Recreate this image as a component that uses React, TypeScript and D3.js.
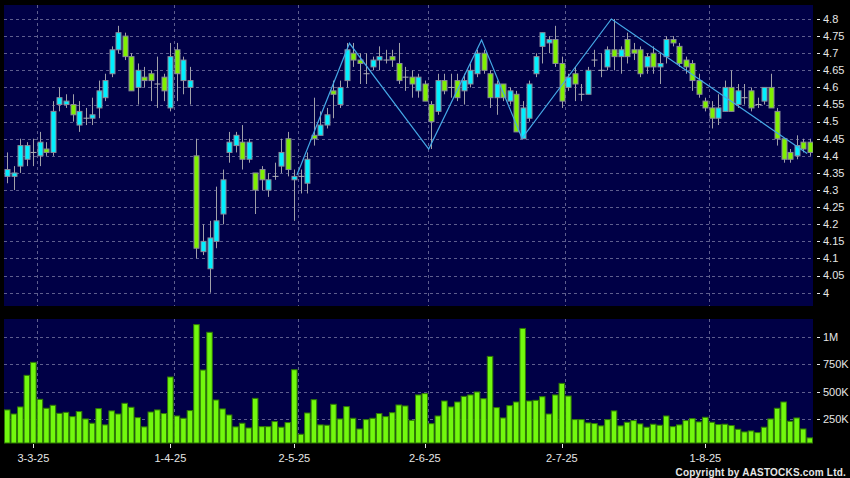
import React from 'react';
import * as d3 from 'd3';

// ---- Data ----
const opens = [
  4.34, 4.34, 4.37, 4.39, 4.41, 4.40, 4.42, 4.41, 4.55, 4.55,
  4.55, 4.49, 4.51, 4.51, 4.54, 4.57, 4.64, 4.71, 4.75, 4.69,
  4.60, 4.63, 4.64, 4.61, 4.63, 4.54, 4.71, 4.62, 4.60, 4.40,
  4.12, 4.07, 4.15, 4.23, 4.41, 4.43, 4.44, 4.39, 4.35, 4.36,
  4.30, 4.34, 4.37, 4.45, 4.33, 4.34, 4.32, 4.46, 4.46, 4.49,
  4.59, 4.55, 4.62, 4.70, 4.68, 4.64, 4.66, 4.68, 4.68, 4.69,
  4.67, 4.63, 4.63, 4.59, 4.61, 4.55, 4.53, 4.62, 4.60, 4.62,
  4.59, 4.61, 4.64, 4.70, 4.64, 4.57, 4.61, 4.56, 4.58, 4.45,
  4.51, 4.64, 4.72, 4.73, 4.74, 4.67, 4.60, 4.64, 4.58, 4.58,
  4.68, 4.65, 4.66, 4.71, 4.69, 4.74, 4.71, 4.71, 4.66, 4.70,
  4.66, 4.69, 4.74, 4.72, 4.68, 4.67, 4.62, 4.56, 4.54, 4.51,
  4.53, 4.60, 4.55, 4.57, 4.59, 4.55, 4.56, 4.60, 4.53, 4.45,
  4.41, 4.40, 4.44, 4.44,
];
const highs = [
  4.41, 4.37, 4.45, 4.44, 4.45, 4.47, 4.44, 4.56, 4.60, 4.58,
  4.58, 4.56, 4.54, 4.57, 4.62, 4.64, 4.72, 4.78, 4.76, 4.70,
  4.67, 4.66, 4.65, 4.69, 4.64, 4.73, 4.73, 4.69, 4.66, 4.45,
  4.20, 4.21, 4.31, 4.36, 4.47, 4.47, 4.49, 4.45, 4.35, 4.37,
  4.35, 4.38, 4.45, 4.47, 4.36, 4.36, 4.41, 4.57, 4.53, 4.54,
  4.62, 4.62, 4.73, 4.73, 4.70, 4.70, 4.69, 4.72, 4.71, 4.71,
  4.73, 4.66, 4.65, 4.64, 4.62, 4.56, 4.64, 4.64, 4.64, 4.64,
  4.64, 4.67, 4.71, 4.71, 4.65, 4.62, 4.61, 4.60, 4.59, 4.56,
  4.62, 4.70, 4.76, 4.75, 4.78, 4.69, 4.64, 4.66, 4.61, 4.66,
  4.71, 4.70, 4.72, 4.80, 4.72, 4.76, 4.73, 4.72, 4.70, 4.72,
  4.70, 4.75, 4.75, 4.73, 4.69, 4.68, 4.64, 4.57, 4.56, 4.58,
  4.62, 4.65, 4.61, 4.61, 4.60, 4.57, 4.60, 4.64, 4.54, 4.45,
  4.42, 4.46, 4.45, 4.45,
];
const lows = [
  4.32, 4.30, 4.35, 4.37, 4.37, 4.37, 4.40, 4.40, 4.53, 4.54,
  4.50, 4.47, 4.49, 4.49, 4.51, 4.56, 4.63, 4.70, 4.68, 4.59,
  4.55, 4.60, 4.56, 4.54, 4.56, 4.53, 4.56, 4.58, 4.55, 4.10,
  4.11, 4.00, 4.13, 4.20, 4.38, 4.41, 4.36, 4.38, 4.23, 4.30,
  4.28, 4.33, 4.35, 4.34, 4.21, 4.29, 4.29, 4.43, 4.46, 4.48,
  4.51, 4.54, 4.60, 4.66, 4.61, 4.61, 4.65, 4.65, 4.67, 4.66,
  4.61, 4.59, 4.57, 4.57, 4.56, 4.42, 4.52, 4.58, 4.57, 4.56,
  4.55, 4.60, 4.63, 4.64, 4.54, 4.52, 4.56, 4.55, 4.47, 4.45,
  4.50, 4.63, 4.67, 4.70, 4.66, 4.54, 4.59, 4.56, 4.56, 4.58,
  4.66, 4.63, 4.65, 4.65, 4.64, 4.67, 4.68, 4.63, 4.64, 4.64,
  4.61, 4.67, 4.72, 4.66, 4.64, 4.59, 4.57, 4.53, 4.48, 4.49,
  4.53, 4.53, 4.54, 4.55, 4.53, 4.54, 4.55, 4.54, 4.43, 4.38,
  4.38, 4.39, 4.41, 4.40,
];
const closes = [
  4.36, 4.35, 4.43, 4.43, 4.41, 4.44, 4.41, 4.53, 4.57, 4.56,
  4.52, 4.53, 4.51, 4.52, 4.59, 4.62, 4.71, 4.76, 4.69, 4.59,
  4.65, 4.62, 4.62, 4.61, 4.59, 4.69, 4.64, 4.68, 4.62, 4.13,
  4.15, 4.16, 4.21, 4.33, 4.44, 4.46, 4.39, 4.44, 4.30, 4.33,
  4.33, 4.34, 4.41, 4.36, 4.34, 4.34, 4.39, 4.45, 4.49, 4.52,
  4.58, 4.60, 4.71, 4.68, 4.67, 4.64, 4.68, 4.69, 4.68, 4.68,
  4.62, 4.63, 4.61, 4.63, 4.56, 4.50, 4.62, 4.59, 4.60, 4.57,
  4.62, 4.65, 4.70, 4.65, 4.57, 4.61, 4.57, 4.59, 4.47, 4.54,
  4.61, 4.69, 4.76, 4.74, 4.67, 4.56, 4.63, 4.61, 4.58, 4.65,
  4.68, 4.65, 4.71, 4.69, 4.71, 4.69, 4.70, 4.64, 4.69, 4.66,
  4.67, 4.74, 4.73, 4.67, 4.66, 4.62, 4.58, 4.54, 4.51, 4.54,
  4.60, 4.53, 4.59, 4.57, 4.54, 4.55, 4.60, 4.54, 4.45, 4.39,
  4.39, 4.43, 4.42, 4.41,
];
// volume, thousands of shares
const volumes = [
  335, 298, 362, 649, 767, 431, 350, 377, 304, 313,
  274, 320, 253, 214, 347, 199, 326, 298, 395, 359,
  265, 181, 316, 335, 302, 634, 280, 259, 329, 1110,
  697, 1040, 425, 344, 289, 181, 214, 171, 440, 183,
  183, 229, 178, 220, 700, 114, 307, 428, 199, 196,
  386, 253, 365, 259, 162, 247, 259, 302, 274, 310,
  380, 371, 241, 471, 483, 210, 280, 416, 362, 407,
  458, 471, 498, 437, 821, 356, 262, 374, 407, 1075,
  416, 422, 455, 298, 471, 576, 461, 247, 247, 217,
  211, 190, 247, 326, 190, 223, 238, 208, 178, 205,
  196, 280, 183, 199, 238, 256, 226, 268, 223, 202,
  205, 193, 159, 135, 144, 129, 178, 253, 350, 407,
  232, 262, 162, 81,
];

const dateTickIndex = [4, 25, 44, 64, 85, 107];
const dateTickLabels = ['3-3-25', '1-4-25', '2-5-25', '2-6-25', '2-7-25', '1-8-25'];

const priceTicks = [4.0, 4.05, 4.1, 4.15, 4.2, 4.25, 4.3, 4.35, 4.4, 4.45, 4.5, 4.55, 4.6, 4.65, 4.7, 4.75, 4.8];
const volumeTicks = [250, 500, 750, 1000];
const volumeTickLabels = ['250K', '500K', '750K', '1M'];

// zigzag overlay (fractional bar position, price)
const zigzagPos = [44.9, 52.95, 65.1, 73.2, 79.4, 93.1, 123.1];
const zigzagVal = [4.344, 4.729, 4.42, 4.739, 4.451, 4.80, 4.407];

export default function App() {
  const W = 850;
  const H = 478;
  const left = 4;
  const right = 813;
  const pTop = 5;
  const pBottom = 306;
  const vTop = 319;
  const vBottom = 443;
  const n = opens.length;

  const x = d3.scaleBand<number>().domain(d3.range(n)).range([left, right]).padding(0);
  const step = x.step();
  const xc = (i: number) => (x(i) as number) + step / 2;
  const xf = d3.scaleLinear().domain([0, n]).range([left, right]);

  const y = d3.scaleLinear().domain([4.0, 4.8]).range([292.7, 19]);
  const yv = d3.scaleLinear().domain([0, 1000]).range([446.8, 336.7]);

  const gridColor = '#5e5e8e';
  const panelFill = '#000046';
  const textColor = '#e6e6e6';
  const font = 'Liberation Sans, Arial, sans-serif';
  const bodyW = 5;

  const zigLine = d3
    .line<number>()
    .x((_, k) => xf(zigzagPos[k]))
    .y((v) => y(v))(zigzagVal) as string;

  return (
    <svg
      width={W}
      height={H}
      style={{ position: 'absolute', left: 0, top: 0, display: 'block' }}
      fontFamily={font}
    >
      <defs>
        <clipPath id="pclip">
          <rect x={left} y={pTop} width={right - left} height={pBottom - pTop} />
        </clipPath>
      </defs>
      <rect x={0} y={0} width={W} height={H} fill="#000" />

      {/* price panel */}
      <rect x={left} y={pTop} width={right - left} height={pBottom - pTop} fill={panelFill} />
      {priceTicks.map((t) => (
        <g key={'pt' + t}>
          <line
            x1={left}
            x2={right}
            y1={Math.round(y(t)) + 0.5}
            y2={Math.round(y(t)) + 0.5}
            stroke={gridColor}
            strokeDasharray="3,3"
          />
          <line x1={817} x2={820} y1={Math.round(y(t)) + 0.5} y2={Math.round(y(t)) + 0.5} stroke={textColor} />
          <text x={823} y={y(t)} dy="0.35em" fontSize={11} fill={textColor}>
            {String(+t.toFixed(2))}
          </text>
        </g>
      ))}
      {dateTickIndex.map((i) => (
        <line
          key={'pv' + i}
          x1={Math.round((x(i) as number) + step) + 0.5}
          x2={Math.round((x(i) as number) + step) + 0.5}
          y1={pTop}
          y2={pBottom}
          stroke={gridColor}
          strokeDasharray="3,3"
        />
      ))}

      <g clipPath="url(#pclip)">
        {opens.map((o, i) => {
          const c = closes[i];
          const cx = Math.round(xc(i)) + 0.5;
          const up = c > o;
          const doji = Math.abs(c - o) < 0.0001;
          const top = y(Math.max(o, c));
          const bot = y(Math.min(o, c));
          return (
            <g key={'c' + i}>
              <line x1={cx} x2={cx} y1={y(highs[i])} y2={y(lows[i])} stroke="#a0a0a8" strokeWidth={1} />
              {doji ? (
                <line x1={cx - 3} x2={cx + 3} y1={top} y2={top} stroke="#b0b0b8" strokeWidth={1} />
              ) : (
                <rect
                  x={cx - bodyW / 2}
                  y={top}
                  width={bodyW}
                  height={Math.max(bot - top, 2)}
                  fill={up ? '#00f0ff' : '#7ff000'}
                  stroke="#8a8a9a"
                  strokeWidth={1}
                />
              )}
            </g>
          );
        })}
        <path d={zigLine} fill="none" stroke="#45a8e6" strokeWidth={1.2} />
      </g>

      {/* volume panel */}
      <rect x={left} y={vTop} width={right - left} height={vBottom - vTop} fill={panelFill} />
      {volumeTicks.map((t, k) => (
        <g key={'vt' + t}>
          <line
            x1={left}
            x2={right}
            y1={Math.round(yv(t)) + 0.5}
            y2={Math.round(yv(t)) + 0.5}
            stroke={gridColor}
            strokeDasharray="3,3"
          />
          <line x1={817} x2={820} y1={Math.round(yv(t)) + 0.5} y2={Math.round(yv(t)) + 0.5} stroke={textColor} />
          <text x={823} y={yv(t)} dy="0.35em" fontSize={11} fill={textColor}>
            {volumeTickLabels[k]}
          </text>
        </g>
      ))}
      {dateTickIndex.map((i) => (
        <line
          key={'vv' + i}
          x1={Math.round((x(i) as number) + step) + 0.5}
          x2={Math.round((x(i) as number) + step) + 0.5}
          y1={vTop}
          y2={vBottom}
          stroke={gridColor}
          strokeDasharray="3,3"
        />
      ))}
      {volumes.map((v, i) => (
        <rect
          key={'v' + i}
          x={(x(i) as number) + 0.5}
          y={yv(v)}
          width={step - 1}
          height={Math.max(vBottom - yv(v), 0)}
          fill="#72f80e"
          stroke="#2f7a05"
          strokeWidth={1}
        />
      ))}

      {/* date axis */}
      {dateTickIndex.map((i, k) => (
        <g key={'d' + i}>
          <line x1={Math.round(xc(i)) + 0.5} x2={Math.round(xc(i)) + 0.5} y1={444} y2={448} stroke={textColor} />
          <text x={xc(i)} y={462} textAnchor="middle" fontSize={11} fill={textColor}>
            {dateTickLabels[k]}
          </text>
        </g>
      ))}

      <text x={846} y={476} textAnchor="end" fontSize={10} fontWeight="bold" letterSpacing={0.2} fill={textColor}>
        Copyright by AASTOCKS.com Ltd.
      </text>
    </svg>
  );
}
